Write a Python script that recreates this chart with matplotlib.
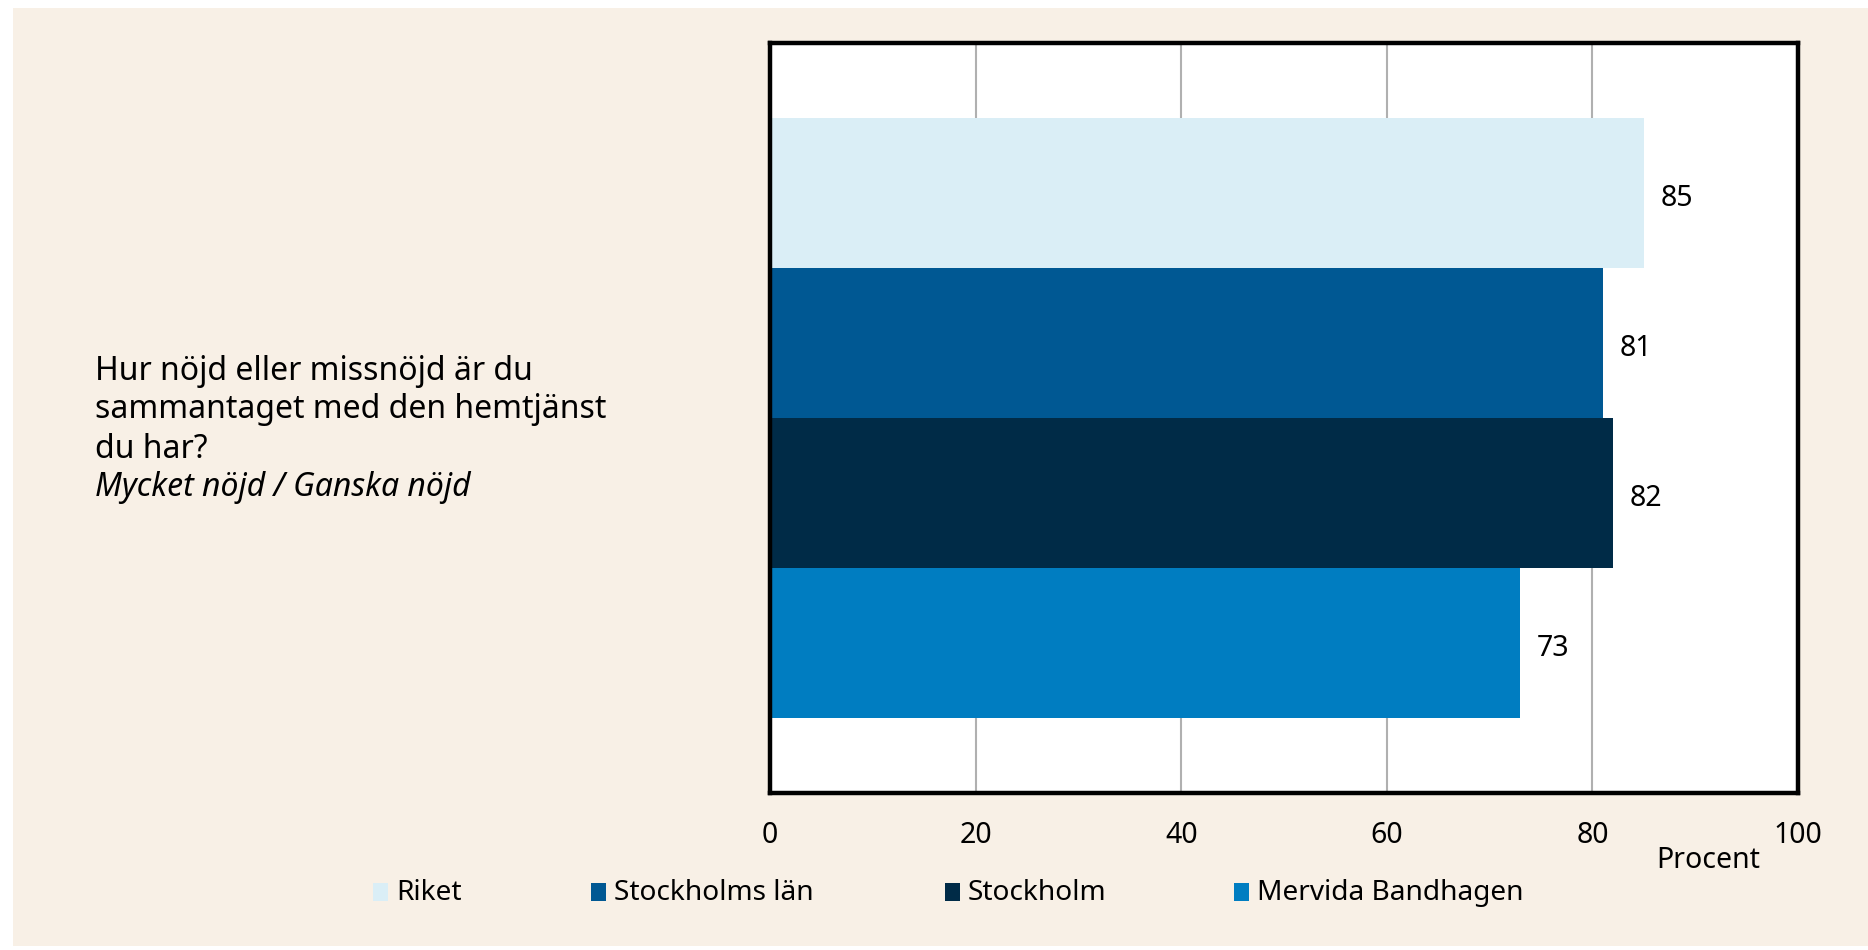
import matplotlib
matplotlib.use("Agg")
import matplotlib.pyplot as plt
from matplotlib.patches import Rectangle

plt.rcParams['font.family'] = ['Noto Sans', 'DejaVu Sans']

# data
groups = ["Riket", "Stockholms län", "Stockholm", "Mervida Bandhagen"]
values = [85, 81, 82, 73]
colors = ["#daeef6", "#005893", "#002b47", "#007dc1"]
question = ["Hur nöjd eller missnöjd är du", "sammantaget med den hemtjänst", "du har?"]
answer = "Mycket nöjd / Ganska nöjd"
xticks = [0, 20, 40, 60, 80, 100]
bg = "#f8f0e6"
W, H = 1868, 950

fig = plt.figure(figsize=(W / 100, H / 100), dpi=100, facecolor="white")
# beige panel with a thin white margin on top/left/bottom
fig.patches.append(Rectangle((13 / W, 1 - 946 / H), 1 - 13 / W, (946 - 8) / H,
                             transform=fig.transFigure, facecolor=bg,
                             edgecolor="none", zorder=-5))

ax = fig.add_axes([770 / W, 1 - 793 / H, (1798 - 770) / W, (793 - 43) / H])
ax.set_zorder(2)
ax.set_facecolor("white")

bh = 0.2
n = len(groups)
for i, (g, v, c) in enumerate(zip(groups, values, colors)):
    y = (i - (n - 1) / 2) * bh
    ax.barh(y, v, height=bh, color=c, label=g, zorder=2)
    # value label just right of the bar end
    ax.annotate(str(v), (v, y), xytext=(12, -4), textcoords="offset points",
                fontsize=20.5, va="center", ha="left", color="black")

ax.set_ylim(0.5, -0.5)
ax.set_xlim(0, 100)
ax.set_xticks(xticks)
ax.set_yticks([])
ax.tick_params(axis="x", length=0, pad=20.5, labelsize=20.5)
ax.grid(axis="x", color="#b0b0b0", linewidth=1.5, zorder=1)
ax.set_axisbelow(True)
for s in ax.spines.values():
    s.set_linewidth(3.2)
    s.set_color("black")

# question text to the left, one line at a time
line_y = [372, 410, 449]
for yy, line in zip(line_y, question):
    fig.text(95 / W, 1 - yy / H, line, fontsize=23, va="center", ha="left")
fig.text(95 / W, 1 - 487 / H, answer, fontsize=23, style="italic",
         va="center", ha="left")

# axis unit
fig.text(1708 / W, 1 - 860 / H, "Procent", fontsize=20.5, ha="center", va="center")

# legend, placed item by item
leg_x = [373, 591, 945, 1234]
for x, g, c in zip(leg_x, groups, colors):
    fig.patches.append(Rectangle((x / W, 1 - 901 / H), 15 / W, 18 / H,
                                 transform=fig.transFigure, facecolor=c,
                                 edgecolor="none", zorder=1))
    fig.text((x + 23) / W, 1 - 893 / H, g, fontsize=20.2, ha="left", va="center")

fig.savefig("out.png", dpi=100, facecolor="white")
